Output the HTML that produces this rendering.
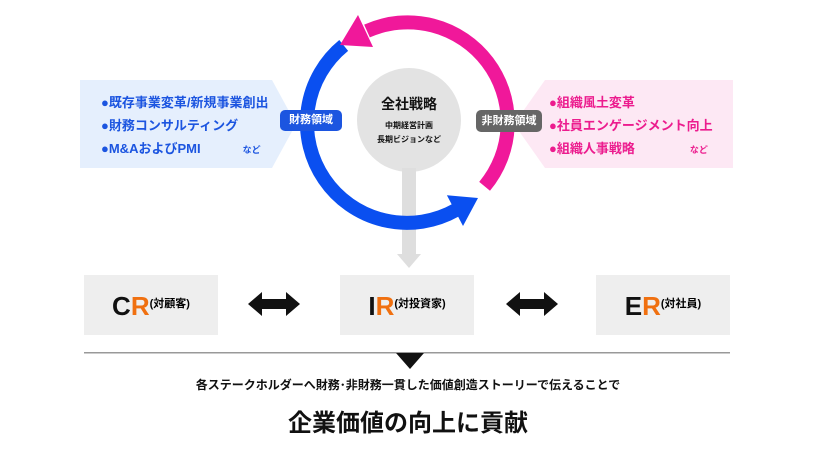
<!DOCTYPE html>
<html><head><meta charset="utf-8"><style>
html,body{margin:0;padding:0;background:#fff;}
body{width:816px;height:459px;position:relative;overflow:hidden;font-family:"Liberation Sans","Noto Sans CJK JP",sans-serif;font-weight:bold;}
.a{position:absolute;white-space:nowrap;}
</style></head><body>
<svg class="a" style="left:0;top:0" width="816" height="459">
<polygon points="80,80 272,80 296,124 272,168 80,168" fill="#e5effd"/>
<polygon points="545,80 733,80 733,168 545,168 514,124" fill="#fde8f4"/>
<circle cx="409" cy="120" r="52" fill="#e3e3e3"/>
<rect x="402" y="168" width="14" height="88" fill="#dedede"/>
<polygon points="397,254 421,254 409,268" fill="#dedede"/>
<path d="M343.7,45.4 A100,100 0 0 0 456,210" fill="none" stroke="#0a4ff0" stroke-width="14"/>
<path d="M484.6,186.3 A100,100 0 0 0 367,31" fill="none" stroke="#f0189a" stroke-width="14"/>
<polygon points="373,47 358,15 340,45" fill="#f0189a"/>
<polygon points="446.9,195.3 463,226 478,198" fill="#0a4ff0"/>
<rect x="84" y="275" width="134" height="60" fill="#eeeeee"/>
<rect x="340" y="275" width="134" height="60" fill="#eeeeee"/>
<rect x="596" y="275" width="134" height="60" fill="#eeeeee"/>
<polygon points="248,304 262,292 262,299 286,299 286,292 300,304 286,316 286,309 262,309 262,316" fill="#111"/>
<polygon points="506,304 520,292 520,299 544,299 544,292 558,304 544,316 544,309 520,309 520,316" fill="#111"/>
<rect x="84" y="352" width="646" height="1.5" fill="#999"/>
<polygon points="396,353 424,353 410,369" fill="#111"/>
</svg>
<div class="a" style="left:280px;top:110px;width:62px;height:21px;background:#1c55e0;border-radius:5px;color:#fff;font-size:11px;line-height:21px;text-align:center">財務領域</div>
<div class="a" style="left:476px;top:110px;width:66px;height:22px;background:#666;border-radius:5px;color:#fff;font-size:11px;line-height:22px;text-align:center">非財務領域</div>
<div class="a" style="left:101px;top:91px;color:#1c55e0;font-size:13px;line-height:23px">●既存事業変革/新規事業創出<br>●財務コンサルティング<br>●M&amp;AおよびPMI<span style="font-size:9px;margin-left:42px">など</span></div>
<div class="a" style="left:549px;top:91px;color:#ec1c8e;font-size:13px;line-height:23px">●組織風土変革<br>●社員エンゲージメント向上<br>●組織人事戦略<span style="font-size:9px;margin-left:55px">など</span></div>
<div class="a" style="left:357px;top:94px;width:104px;text-align:center;color:#111;font-size:14px">全社戦略</div>
<div class="a" style="left:357px;top:119px;width:104px;text-align:center;color:#111;font-size:8px;line-height:14px">中期経営計画<br>長期ビジョンなど</div>
<div class="a" style="left:84px;top:287px;width:134px;text-align:center;font-size:26px;line-height:34px"><span style="color:#111">C</span><span style="color:#f07010">R</span><span style="font-size:11px;vertical-align:8px">(対顧客)</span></div>
<div class="a" style="left:340px;top:287px;width:134px;text-align:center;font-size:26px;line-height:34px"><span style="color:#111">I</span><span style="color:#f07010">R</span><span style="font-size:11px;vertical-align:8px">(対投資家)</span></div>
<div class="a" style="left:596px;top:287px;width:134px;text-align:center;font-size:26px;line-height:34px"><span style="color:#111">E</span><span style="color:#f07010">R</span><span style="font-size:11px;vertical-align:8px">(対社員)</span></div>
<div class="a" style="left:0;top:376px;width:816px;text-align:center;color:#111;font-size:12px">各ステークホルダーへ財務･非財務一貫した価値創造ストーリーで伝えることで</div>
<div class="a" style="left:0;top:403px;width:816px;text-align:center;color:#111;font-size:24px">企業価値の向上に貢献</div>
</body></html>
